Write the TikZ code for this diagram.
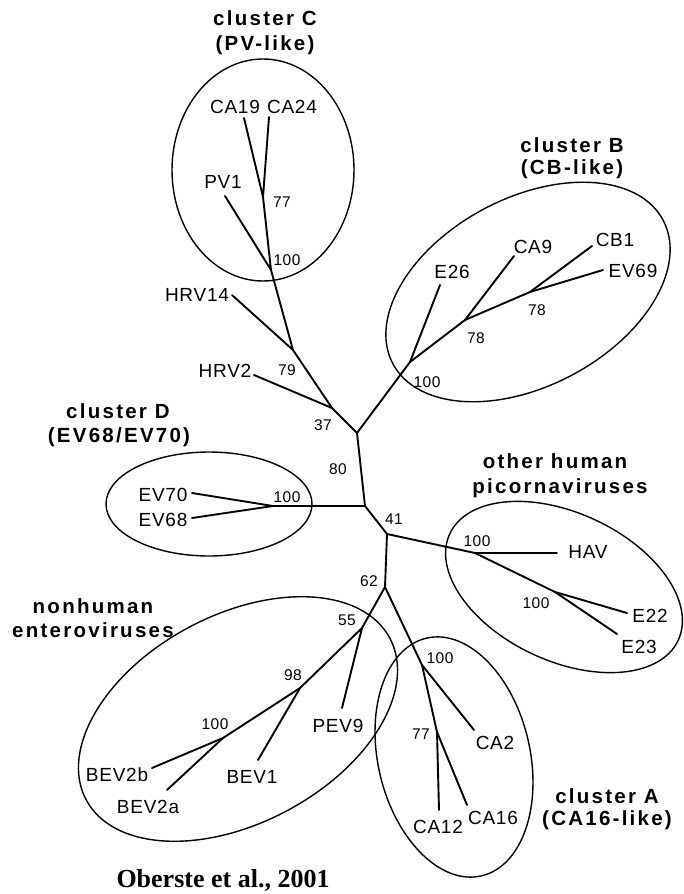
\documentclass[tikz,border=0pt]{standalone}
\usepackage{fontspec}
\setmainfont{Liberation Sans}
\newfontfamily\lblfont[LetterSpace=4]{Liberation Sans}
\newfontfamily\numfont[LetterSpace=3]{Liberation Sans}
\newfontfamily\ttlfont[LetterSpace=11]{Liberation Sans Bold}
\newfontfamily\citefont{Liberation Serif Bold}
\begin{document}
\begin{tikzpicture}[x=1pt,y=1pt,
  br/.style={line width=1.9pt,line cap=round,line join=round},
  ell/.style={line width=1.4pt},
  lbl/.style={anchor=base,inner sep=0pt,font=\lblfont\fontsize{19}{20}\selectfont},
  num/.style={anchor=base,inner sep=0pt,font=\numfont\fontsize{15.5}{16}\selectfont},
  ttl/.style={anchor=base,inner sep=0pt,font=\ttlfont\fontsize{20.5}{21}\selectfont}]
\useasboundingbox (0,0) rectangle (683,-894);
% internal nodes
\coordinate (c100) at (271,-270);
\coordinate (c77) at (263,-197);
\coordinate (n79) at (293,-350);
\coordinate (n37) at (332,-408);
\coordinate (ntop) at (357,-433);
\coordinate (b100) at (410,-362);
\coordinate (b78a) at (465,-320);
\coordinate (b78b) at (530,-292);
\coordinate (nmid) at (365,-506);
\coordinate (d100) at (273,-506);
\coordinate (n41) at (387,-534);
\coordinate (h100) at (475,-553);
\coordinate (e100) at (555,-592);
\coordinate (n62) at (385,-587);
\coordinate (a100) at (422,-665);
\coordinate (a77) at (437,-732);
\coordinate (n55) at (362,-628);
\coordinate (n98) at (300,-688);
\coordinate (v100) at (223,-738);
% leaf ends
\coordinate (tCA19) at (244,-118);
\coordinate (tCA24) at (269,-117);
\coordinate (tPV1) at (225,-196);
\coordinate (tHRV14) at (232,-295);
\coordinate (tHRV2) at (254,-375);
\coordinate (tE26) at (440,-285);
\coordinate (tCA9) at (514,-256);
\coordinate (tCB1) at (592,-246);
\coordinate (tEV69) at (603,-270);
\coordinate (tEV70) at (192,-493);
\coordinate (tEV68) at (192,-518);
\coordinate (tHAV) at (557,-553);
\coordinate (tE22) at (627,-613);
\coordinate (tE23) at (617,-634);
\coordinate (tCA2) at (474,-730);
\coordinate (tCA12) at (439,-810);
\coordinate (tCA16) at (467,-805);
\coordinate (tPEV9) at (342,-708);
\coordinate (tBEV1) at (258,-760);
\coordinate (tBEV2b) at (152,-768);
\coordinate (tBEV2a) at (167,-790);
% branches
\draw[br] (tCA19) -- (c77) -- (tCA24);
\draw[br] (c77) -- (c100) -- (tPV1);
\draw[br] (c100) -- (n79) -- (tHRV14);
\draw[br] (n79) -- (n37) -- (tHRV2);
\draw[br] (n37) -- (ntop) -- (b100) -- (tE26);
\draw[br] (b100) -- (b78a) -- (tCA9);
\draw[br] (b78a) -- (b78b) -- (tCB1);
\draw[br] (b78b) -- (tEV69);
\draw[br] (ntop) -- (nmid) -- (d100) -- (tEV70);
\draw[br] (d100) -- (tEV68);
\draw[br] (nmid) -- (n41) -- (h100) -- (tHAV);
\draw[br] (h100) -- (e100) -- (tE22);
\draw[br] (e100) -- (tE23);
\draw[br] (n41) -- (n62) -- (a100) -- (tCA2);
\draw[br] (a100) -- (a77) -- (tCA12);
\draw[br] (a77) -- (tCA16);
\draw[br] (n62) -- (n55) -- (tPEV9);
\draw[br] (n55) -- (n98) -- (tBEV1);
\draw[br] (n98) -- (v100) -- (tBEV2b);
\draw[br] (v100) -- (tBEV2a);
% cluster ellipses
\draw[ell] (263,-170) ellipse [x radius=91, y radius=111];
\draw[ell,rotate around={28:(528,-292)}] (528,-292) ellipse [x radius=153, y radius=94];
\draw[ell] (209,-504) ellipse [x radius=103, y radius=52];
\draw[ell,rotate around={-25:(564,-587)}] (564,-587) ellipse [x radius=126, y radius=74];
\draw[ell,rotate around={13:(454,-757)}] (454,-757) ellipse [x radius=76, y radius=122];
\draw[ell,rotate around={28:(238,-719)}] (238,-719) ellipse [x radius=172, y radius=104];
% leaf labels
\node[lbl] (lCA19) at (235,-113) {CA19};
\node[lbl] (lCA24) at (292,-113) {CA24};
\node[lbl] (lPV1) at (223,-188) {PV1};
\node[lbl] (lHRV14) at (197,-301) {HRV14};
\node[lbl] (lHRV2) at (225,-377) {HRV2};
\node[lbl] (lE26) at (452,-278) {E26};
\node[lbl] (lCA9) at (533,-253) {CA9};
\node[lbl] (lCB1) at (615,-246) {CB1};
\node[lbl] (lEV69) at (633,-277) {EV69};
\node[lbl] (lEV70) at (163,-501) {EV70};
\node[lbl] (lEV68) at (163,-526) {EV68};
\node[lbl] (lHAV) at (588,-558) {HAV};
\node[lbl] (lE22) at (650,-622) {E22};
\node[lbl] (lE23) at (639,-653) {E23};
\node[lbl] (lCA2) at (495,-749) {CA2};
\node[lbl] (lCA12) at (438,-833) {CA12};
\node[lbl] (lCA16) at (493,-824) {CA16};
\node[lbl] (lPEV9) at (338,-732) {PEV9};
\node[lbl] (lBEV1) at (252,-783) {BEV1};
\node[lbl] (lBEV2b) at (117,-781) {BEV2b};
\node[lbl] (lBEV2a) at (148,-813) {BEV2a};
% bootstrap values
\node[num] (bs1) at (282,-207) {77};
\node[num] (bs2) at (287,-265) {100};
\node[num] (bs3) at (287,-375) {79};
\node[num] (bs4) at (323,-430) {37};
\node[num] (bs5) at (427,-387) {100};
\node[num] (bs6) at (476,-343) {78};
\node[num] (bs7) at (537,-315) {78};
\node[num] (bs8) at (287,-502) {100};
\node[num] (bs9) at (338,-474) {80};
\node[num] (bs10) at (394,-524) {41};
\node[num] (bs11) at (369,-586) {62};
\node[num] (bs12) at (477,-546) {100};
\node[num] (bs13) at (536,-608) {100};
\node[num] (bs14) at (440,-663) {100};
\node[num] (bs15) at (421,-739) {77};
\node[num] (bs16) at (347,-625) {55};
\node[num] (bs17) at (293,-680) {98};
\node[num] (bs18) at (215,-729) {100};
% cluster titles
\node[ttl] (tC1) at (265,-25) {cluster C};
\node[ttl] (tC2) at (265,-50) {(PV-like)};
\node[ttl] (tB1) at (572,-152) {cluster B};
\node[ttl] (tB2) at (572,-174) {(CB-like)};
\node[ttl] (tD1) at (118,-418) {cluster D};
\node[ttl] (tD2) at (119,-442) {(EV68/EV70)};
\node[ttl] (tO1) at (555,-468) {other human};
\node[ttl] (tO2) at (560,-493) {picornaviruses};
\node[ttl] (tN1) at (93,-613) {nonhuman};
\node[ttl] (tN2) at (93,-637) {enteroviruses};
\node[ttl] (tA1) at (607,-803) {cluster A};
\node[ttl] (tA2) at (607,-825) {(CA16-like)};
\node[anchor=base,inner sep=0pt,font=\citefont\fontsize{26}{27}\selectfont] (cite) at (223,-887) {Oberste et al., 2001};
\end{tikzpicture}
\end{document}
